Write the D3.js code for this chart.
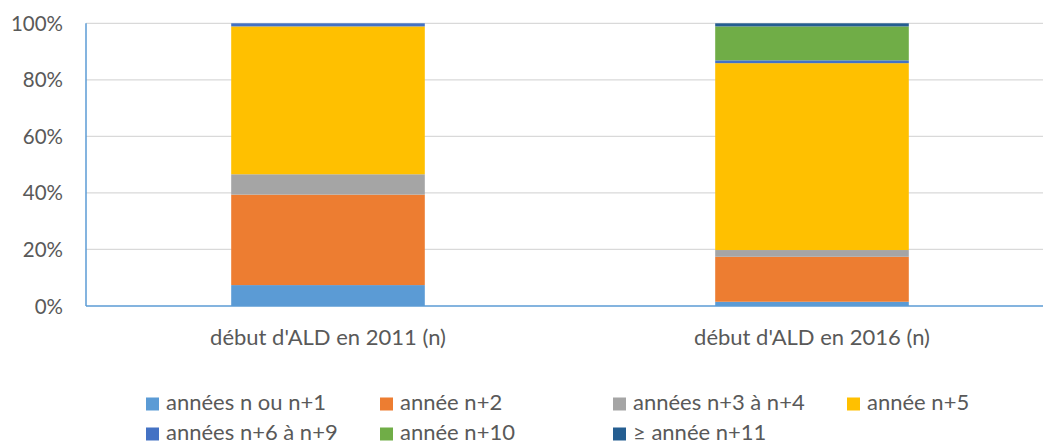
<!DOCTYPE html>
<html>
<head>
<meta charset="utf-8">
<script src="https://cdn.jsdelivr.net/npm/d3@7"></script>
<style>
  body { margin: 0; background: #fff; }
  text { font-family: Lato, "Liberation Sans", Arial, sans-serif; fill: #595959; }
</style>
</head>
<body>
<div id="chart"></div>
<script>
const width = 1043, height = 445;

// categories and series (shares, stacked to 100%)
const categories = ["début d'ALD en 2011 (n)", "début d'ALD en 2016 (n)"];
const seriesNames = ["années n ou n+1", "année n+2", "années n+3 à n+4", "année n+5",
                     "années n+6 à n+9", "année n+10", "≥ année n+11"];
const seriesColors = ["#5B9BD5", "#ED7D31", "#A5A5A5", "#FFC000", "#4472C4", "#70AD47", "#255E91"];
const values2011 = [0.074, 0.320, 0.072, 0.523, 0.011, 0.000, 0.000];
const values2016 = [0.015, 0.159, 0.024, 0.661, 0.010, 0.120, 0.011];
const yTicks = [0, 0.2, 0.4, 0.6, 0.8, 1.0];

const svg = d3.select("#chart").append("svg")
    .attr("width", width)
    .attr("height", height);

const x = d3.scaleBand()
    .domain(categories)
    .range([86, 1054])
    .paddingInner(0.6)
    .paddingOuter(0.3);

const y = d3.scaleLinear()
    .domain([0, 1])
    .range([306, 23.3]);

// gridlines
svg.append("g")
    .selectAll("line")
    .data(yTicks.filter(d => d > 0))
    .enter().append("line")
    .attr("x1", 86).attr("x2", 1054)
    .attr("y1", d => y(d)).attr("y2", d => y(d))
    .attr("stroke", "#D9D9D9")
    .attr("stroke-width", 1.3);

// y labels
svg.append("g")
    .selectAll("text")
    .data(yTicks)
    .enter().append("text")
    .attr("x", 63)
    .attr("y", d => y(d) + 7.5)
    .attr("text-anchor", "end")
    .style("font-size", "20.5px")
    .text(d3.format(".0%"));

// stacked bars
const rows = categories.map((c, i) => {
    const vals = i === 0 ? values2011 : values2016;
    const row = { cat: c };
    seriesNames.forEach((s, j) => row[s] = vals[j]);
    return row;
});
const stacked = d3.stack().keys(seriesNames)(rows);

svg.append("g")
    .selectAll("g")
    .data(stacked)
    .enter().append("g")
    .attr("fill", (d, i) => seriesColors[i])
    .selectAll("rect")
    .data(d => d)
    .enter().append("rect")
    .attr("x", d => x(d.data.cat))
    .attr("width", x.bandwidth())
    .attr("y", d => y(d[1]))
    .attr("height", d => y(d[0]) - y(d[1]));

// axes lines
svg.append("line")
    .attr("x1", 86).attr("x2", 86)
    .attr("y1", y(1)).attr("y2", y(0))
    .attr("stroke", "#5B9BD5").attr("stroke-width", 1.5);
svg.append("line")
    .attr("x1", 86).attr("x2", 1054)
    .attr("y1", y(0)).attr("y2", y(0))
    .attr("stroke", "#5B9BD5").attr("stroke-width", 1.5);

// category labels
svg.append("g")
    .selectAll("text")
    .data(categories)
    .enter().append("text")
    .attr("x", d => x(d) + x.bandwidth() / 2)
    .attr("y", 345)
    .attr("text-anchor", "middle")
    .style("font-size", "22px")
    .text(d => d);

// legend
const legendCols = [146, 380, 613, 847];
const legendRows = [410, 440];
const legend = svg.append("g")
    .selectAll("g")
    .data(seriesNames)
    .enter().append("g")
    .attr("transform", (d, i) => `translate(${legendCols[i % 4]},${legendRows[Math.floor(i / 4)]})`);

legend.append("rect")
    .attr("x", 0).attr("y", -12.5)
    .attr("width", 13).attr("height", 13)
    .attr("fill", (d, i) => seriesColors[i]);

legend.append("text")
    .attr("x", 20)
    .attr("y", 0)
    .style("font-size", "22px")
    .text(d => d);
</script>
</body>
</html>
